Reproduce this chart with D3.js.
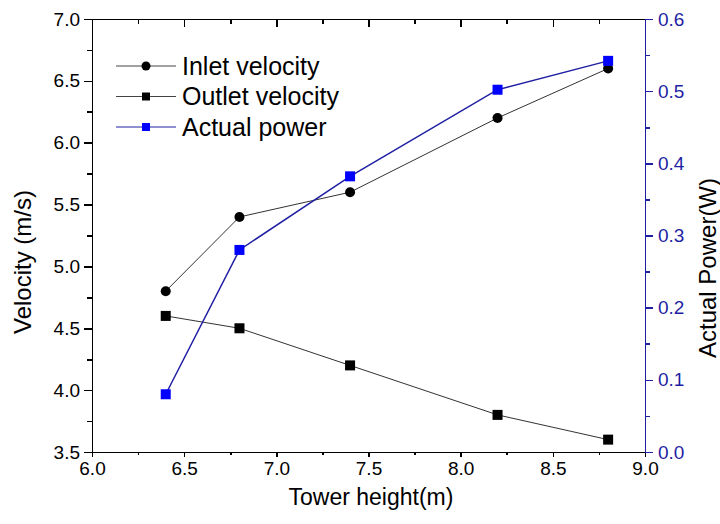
<!DOCTYPE html>
<html>
  <head>
    <meta charset="UTF-8">
    <title>Velocity and power vs tower height</title>
    <style>
      body { margin: 0; background: #fff; }
      text { font-family: "Liberation Sans", Arial, sans-serif; }
      .axis path, .axis line { shape-rendering: crispEdges; }
    </style>
    <script src="https://cdn.jsdelivr.net/npm/d3@7"></script>
  </head>
  <body>
    <script>
      // data
      var towerHeight = [6.4, 6.8, 7.4, 8.2, 8.8];
      var inletVelocity = [4.8, 5.4, 5.6, 6.2, 6.6];
      var outletVelocity = [4.6, 4.5, 4.2, 3.8, 3.6];
      var actualPower = [0.08, 0.28, 0.382, 0.502, 0.542];

      var xTicks = [6.0, 6.5, 7.0, 7.5, 8.0, 8.5, 9.0];
      var yTicks = [3.5, 4.0, 4.5, 5.0, 5.5, 6.0, 6.5, 7.0];
      var y2Ticks = [0.0, 0.1, 0.2, 0.3, 0.4, 0.5, 0.6];

      var legendNames = ["Inlet velocity", "Outlet velocity", "Actual power"];

      var width = 720, height = 524;
      var plotL = 92, plotR = 645, plotT = 19, plotB = 452;
      var blue = "#1f1fa3", markBlue = "#0000ff";

      var x = d3.scaleLinear().domain([6, 9]).range([plotL, plotR]);
      var y = d3.scaleLinear().domain([3.5, 7]).range([plotB, plotT]);
      var y2 = d3.scaleLinear().domain([0, 0.6]).range([plotB, plotT]);

      var svg = d3.select("body").append("svg")
          .attr("width", width)
          .attr("height", height);

      // minor tick positions (halfway between majors)
      function minors(ticks) {
          var out = [];
          for (var i = 0; i < ticks.length - 1; ++i) {
              out.push((ticks[i] + ticks[i + 1]) / 2);
          }
          return out;
      }

      function styleAxis(g, color, size) {
          g.attr("class", "axis");
          g.select(".domain").attr("stroke", color).attr("stroke-width", 1.6);
          g.selectAll(".tick line").attr("stroke", color).attr("stroke-width", 1.6);
          g.selectAll(".tick text")
              .attr("fill", color)
              .style("font-size", size + "px");
      }

      // bottom axis
      var gx = svg.append("g")
          .attr("transform", "translate(0," + plotB + ")")
          .call(d3.axisBottom(x).tickValues(xTicks).tickSize(5).tickPadding(5)
                .tickFormat(d3.format(".1f")));
      styleAxis(gx, "#000", 19);
      var gxm = svg.append("g")
          .attr("transform", "translate(0," + plotB + ")")
          .call(d3.axisBottom(x).tickValues(minors(xTicks)).tickSize(3).tickFormat(""));
      styleAxis(gxm, "#000", 19);
      gxm.select(".domain").remove();

      // top axis (ticks inward, no labels)
      var gt = svg.append("g")
          .attr("transform", "translate(0," + plotT + ")")
          .call(d3.axisBottom(x).tickValues(xTicks).tickSize(8).tickFormat("")
                .tickSizeOuter(0));
      styleAxis(gt, "#000", 19);
      gt.selectAll(".tick").filter(function(d) { return d === 6 || d === 9; }).remove();
      var gtm = svg.append("g")
          .attr("transform", "translate(0," + plotT + ")")
          .call(d3.axisBottom(x).tickValues(minors(xTicks)).tickSize(5).tickFormat(""));
      styleAxis(gtm, "#000", 19);
      gtm.select(".domain").remove();

      // left axis
      var gy = svg.append("g")
          .attr("transform", "translate(" + plotL + ",0)")
          .call(d3.axisLeft(y).tickValues(yTicks).tickSize(8).tickPadding(4)
                .tickFormat(d3.format(".1f")));
      styleAxis(gy, "#000", 19);
      var gym = svg.append("g")
          .attr("transform", "translate(" + plotL + ",0)")
          .call(d3.axisLeft(y).tickValues(minors(yTicks)).tickSize(5).tickFormat(""));
      styleAxis(gym, "#000", 19);
      gym.select(".domain").remove();

      // right axis (blue)
      var gr = svg.append("g")
          .attr("transform", "translate(" + plotR + ",0)")
          .call(d3.axisRight(y2).tickValues(y2Ticks).tickSize(8).tickPadding(5)
                .tickFormat(d3.format(".1f")));
      styleAxis(gr, blue, 19);
      var grm = svg.append("g")
          .attr("transform", "translate(" + plotR + ",0)")
          .call(d3.axisRight(y2).tickValues(minors(y2Ticks)).tickSize(5).tickFormat(""));
      styleAxis(grm, blue, 19);
      grm.select(".domain").remove();

      // axis titles
      svg.append("text")
          .attr("x", 371)
          .attr("y", 505)
          .attr("text-anchor", "middle")
          .style("font-size", "23px")
          .text("Tower height(m)");

      svg.append("text")
          .attr("transform", "translate(23,262) rotate(-90)")
          .attr("text-anchor", "middle")
          .attr("dy", "0.35em")
          .style("font-size", "24px")
          .text("Velocity (m/s)");

      svg.append("text")
          .attr("transform", "translate(708,268) rotate(-90)")
          .attr("text-anchor", "middle")
          .attr("dy", "0.35em")
          .style("font-size", "24px")
          .text("Actual Power(W)");

      // series
      var pts = function(ys) {
          return towerHeight.map(function(h, i) { return [h, ys[i]]; });
      };

      var lineV = d3.line()
          .x(function(d) { return x(d[0]); })
          .y(function(d) { return y(d[1]); });
      var lineP = d3.line()
          .x(function(d) { return x(d[0]); })
          .y(function(d) { return y2(d[1]); });

      svg.append("path")
          .attr("d", lineV(pts(inletVelocity)))
          .attr("fill", "none").attr("stroke", "#333").attr("stroke-width", 1);
      svg.append("path")
          .attr("d", lineV(pts(outletVelocity)))
          .attr("fill", "none").attr("stroke", "#333").attr("stroke-width", 1);
      svg.append("path")
          .attr("d", lineP(pts(actualPower)))
          .attr("fill", "none").attr("stroke", blue).attr("stroke-width", 1.5);

      var ms = 10;
      svg.selectAll(".inlet").data(pts(inletVelocity)).enter().append("circle")
          .attr("cx", function(d) { return x(d[0]); })
          .attr("cy", function(d) { return y(d[1]); })
          .attr("r", 5)
          .attr("fill", "#000");

      svg.selectAll(".outlet").data(pts(outletVelocity)).enter().append("rect")
          .attr("x", function(d) { return x(d[0]) - ms / 2; })
          .attr("y", function(d) { return y(d[1]) - ms / 2; })
          .attr("width", ms).attr("height", ms)
          .attr("fill", "#000");

      svg.selectAll(".power").data(pts(actualPower)).enter().append("rect")
          .attr("x", function(d) { return x(d[0]) - ms / 2; })
          .attr("y", function(d) { return y2(d[1]) - ms / 2; })
          .attr("width", ms).attr("height", ms)
          .attr("fill", markBlue);

      // legend
      var legend = svg.append("g");
      var legColors = ["#444", "#444", blue];
      legendNames.forEach(function(name, i) {
          var ly = 66 + i * 30.5;
          legend.append("line")
              .attr("x1", 116).attr("x2", 176)
              .attr("y1", ly).attr("y2", ly)
              .attr("stroke", legColors[i]).attr("stroke-width", 1);
          if (i === 0) {
              legend.append("circle")
                  .attr("cx", 146).attr("cy", ly).attr("r", 4.5)
                  .attr("fill", "#000");
          } else {
              legend.append("rect")
                  .attr("x", 142).attr("y", ly - 4)
                  .attr("width", 8).attr("height", 8)
                  .attr("fill", i === 1 ? "#000" : markBlue);
          }
          legend.append("text")
              .attr("x", 182)
              .attr("y", ly)
              .attr("dy", "0.35em")
              .style("font-size", "25px")
              .text(name);
      });
    </script>
  </body>
</html>
